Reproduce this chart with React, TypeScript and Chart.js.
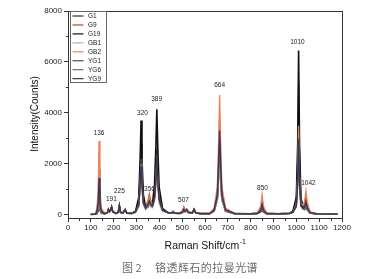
import React, { useEffect, useRef } from 'react';
import { Chart, registerables } from 'chart.js';
Chart.register(...registerables);

const W = 373;
const H = 279;

// Raman shift grid (cm-1)
const ramanShift = [
  100, 120, 126, 132, 136, 140, 146, 160, 172, 177, 182, 187, 191, 196,
  210, 220, 225, 230, 240, 250, 258, 280, 296, 310, 316, 320, 324, 330,
  340, 350, 356, 362, 370, 379, 385, 389, 393, 399, 414, 440, 455, 460,
  466, 490, 502, 507, 513, 520, 527, 545, 552, 560, 580, 620, 640, 654,
  660, 664, 668, 674, 690, 730, 800, 830, 844, 850, 856, 870, 920, 970,
  985, 1000, 1006, 1010, 1014, 1020, 1030, 1036, 1042, 1048, 1060, 1090, 1150, 1180,
];

const seriesNames = ['G1', 'G9', 'G19', 'GB1', 'GB2', 'YG1', 'YG6', 'YG9'];
const seriesColors = ['#2e2e2e', '#b5482e', '#111111', '#b0b0b0', '#e8825f', '#4a4a4a', '#707070', '#3d3456'];

const g1 = [
  20, 30, 80, 270, 900, 320, 90, 50, 80, 220, 130, 190, 320, 130,
  60, 110, 370, 110, 70, 210, 70, 60, 150, 560, 1700, 2800, 1700, 650,
  300, 380, 520, 400, 380, 800, 1700, 2600, 1700, 700, 200, 80, 80, 130,
  70, 60, 110, 200, 140, 210, 100, 80, 220, 80, 50, 50, 170, 680,
  1800, 2800, 1800, 680, 170, 50, 40, 60, 160, 350, 160, 50, 40, 60,
  140, 580, 2250, 5200, 2250, 600, 300, 280, 450, 250, 90, 40, 30, 30,
];
const g9 = [
  30, 40, 150, 550, 1800, 620, 170, 60, 90, 240, 140, 200, 340, 140,
  70, 120, 390, 120, 80, 220, 80, 70, 120, 380, 1100, 1800, 1100, 450,
  300, 550, 820, 600, 420, 750, 1600, 2400, 1600, 650, 200, 90, 90, 140,
  80, 80, 170, 320, 200, 230, 110, 90, 230, 90, 60, 60, 220, 900,
  2450, 3800, 2450, 900, 220, 60, 50, 80, 260, 600, 260, 70, 50, 70,
  130, 480, 1800, 4050, 1800, 520, 340, 400, 700, 380, 110, 50, 40, 40,
];
const g19 = [
  20, 30, 50, 150, 500, 200, 70, 50, 80, 200, 120, 180, 300, 120,
  60, 100, 350, 100, 70, 200, 70, 60, 150, 700, 2200, 3700, 2200, 800,
  300, 300, 420, 350, 450, 1200, 2700, 4150, 2700, 1100, 250, 80, 80, 130,
  70, 60, 100, 180, 130, 200, 100, 80, 220, 80, 50, 50, 150, 600,
  1600, 2500, 1600, 600, 150, 50, 40, 60, 120, 250, 120, 50, 40, 60,
  150, 700, 2800, 6450, 2800, 700, 280, 220, 300, 200, 80, 40, 30, 30,
];
const gb1 = [
  20, 30, 70, 210, 700, 250, 70, 40, 70, 180, 110, 160, 270, 110,
  50, 90, 300, 90, 60, 170, 60, 50, 100, 320, 950, 1500, 950, 380,
  200, 300, 410, 330, 280, 500, 1050, 1600, 1050, 450, 150, 70, 70, 110,
  60, 50, 90, 160, 110, 180, 90, 70, 190, 70, 40, 40, 140, 530,
  1400, 2200, 1400, 530, 140, 40, 30, 50, 140, 300, 140, 40, 30, 50,
  90, 300, 1050, 2400, 1050, 320, 210, 240, 400, 220, 70, 30, 25, 25,
];
const gb2 = [
  30, 50, 240, 880, 2900, 1000, 270, 70, 90, 230, 140, 200, 330, 140,
  70, 110, 380, 110, 80, 210, 80, 70, 120, 360, 1050, 1700, 1050, 430,
  280, 480, 720, 540, 380, 630, 1320, 2000, 1320, 560, 180, 90, 90, 130,
  80, 80, 160, 300, 190, 220, 110, 90, 220, 90, 60, 60, 270, 1120,
  3000, 4700, 3000, 1120, 270, 60, 50, 90, 350, 800, 350, 80, 50, 70,
  120, 420, 1550, 3500, 1550, 480, 380, 530, 950, 500, 130, 50, 40, 40,
];
const yg1 = [
  20, 30, 90, 300, 1000, 350, 100, 50, 80, 210, 130, 190, 310, 130,
  60, 100, 360, 100, 70, 200, 70, 60, 130, 450, 1380, 2200, 1380, 540,
  280, 380, 510, 400, 350, 700, 1500, 2300, 1500, 640, 190, 80, 80, 120,
  70, 60, 110, 190, 130, 200, 100, 80, 210, 80, 50, 50, 180, 720,
  1920, 3000, 1920, 720, 180, 50, 40, 60, 160, 350, 160, 50, 40, 60,
  110, 360, 1320, 3000, 1320, 390, 250, 270, 450, 250, 80, 40, 30, 30,
];
const yg6 = [
  20, 30, 75, 240, 800, 280, 80, 45, 75, 200, 120, 180, 300, 120,
  55, 95, 340, 95, 65, 190, 65, 55, 120, 410, 1250, 2000, 1250, 490,
  250, 340, 460, 360, 320, 640, 1370, 2100, 1370, 590, 170, 75, 75, 115,
  65, 55, 100, 175, 120, 190, 95, 75, 200, 75, 45, 45, 160, 650,
  1730, 2700, 1730, 650, 160, 45, 35, 55, 140, 300, 140, 45, 35, 55,
  100, 330, 1190, 2700, 1190, 350, 230, 240, 400, 220, 75, 35, 28, 28,
];
const yg9 = [
  25, 35, 120, 440, 1450, 500, 140, 55, 85, 220, 135, 195, 320, 135,
  65, 105, 370, 105, 75, 205, 75, 65, 120, 400, 1200, 1900, 1200, 480,
  270, 410, 560, 440, 360, 680, 1430, 2200, 1430, 610, 180, 80, 80, 125,
  75, 65, 120, 220, 150, 210, 100, 80, 215, 80, 50, 50, 200, 800,
  2110, 3300, 2110, 800, 200, 50, 40, 65, 180, 400, 180, 55, 40, 60,
  110, 350, 1280, 2900, 1280, 380, 260, 300, 500, 280, 85, 40, 30, 30,
];
const seriesValues = [g1, g9, g19, gb1, gb2, yg1, yg6, yg9];

// peak annotations
const peakLabels = ['136', '191', '225', '320', '356', '389', '507', '664', '850', '1010', '1042'];
const peakLabelX = [136, 190, 225, 326, 357, 388, 506, 664, 852, 1005, 1053];
const peakLabelY = [3215, 630, 940, 4000, 1020, 4550, 590, 5100, 1060, 6780, 1250];

const xTicks = [0, 100, 200, 300, 400, 500, 600, 700, 800, 900, 1000, 1100, 1200];
const xMinorTicks = [50, 150, 250, 350, 450, 550, 650, 750, 850, 950, 1050, 1150];
const yTicks = [0, 2000, 4000, 6000, 8000];
const yMinorTicks = [1000, 3000, 5000, 7000];

const FONT = '"Liberation Sans", Arial, sans-serif';

const decor = {
  id: 'decor',
  afterDatasetsDraw(chart: any) {
    const { ctx, chartArea: a, scales } = chart;
    const x = scales.x;
    const y = scales.y;
    ctx.save();
    // frame
    ctx.strokeStyle = '#333';
    ctx.lineWidth = 1;
    const L = Math.round(a.left) + 0.5;
    const T = Math.round(a.top) + 0.5;
    const R = Math.round(a.right) + 0.5;
    const B = Math.round(a.bottom) + 0.5;
    ctx.strokeRect(L, T, R - L, B - T);
    // minor ticks
    ctx.beginPath();
    xMinorTicks.forEach((v) => {
      const px = Math.round(x.getPixelForValue(v)) + 0.5;
      ctx.moveTo(px, B);
      ctx.lineTo(px, B + 2.5);
    });
    yMinorTicks.forEach((v) => {
      const py = Math.round(y.getPixelForValue(v)) + 0.5;
      ctx.moveTo(L, py);
      ctx.lineTo(L - 2.5, py);
    });
    ctx.stroke();

    // peak labels
    ctx.fillStyle = '#222';
    ctx.font = `6.5px ${FONT}`;
    ctx.textAlign = 'center';
    ctx.textBaseline = 'middle';
    peakLabels.forEach((t, i) => {
      ctx.fillText(t, x.getPixelForValue(peakLabelX[i]), y.getPixelForValue(peakLabelY[i]));
    });

    // legend
    const lx = L + 2;
    const ly = T;
    ctx.strokeStyle = '#666';
    ctx.lineWidth = 1;
    ctx.strokeRect(lx, ly, 36, 71);
    ctx.font = `6.5px ${FONT}`;
    ctx.textAlign = 'left';
    seriesNames.forEach((n, i) => {
      const cy = ly + 4.5 + i * 8.95;
      ctx.strokeStyle = seriesColors[i];
      ctx.lineWidth = 1.2;
      ctx.beginPath();
      ctx.moveTo(lx + 2, cy);
      ctx.lineTo(lx + 13, cy);
      ctx.stroke();
      ctx.fillStyle = '#222';
      ctx.fillText(n, lx + 17.5, cy + 0.5);
    });

    // axis titles
    ctx.fillStyle = '#111';
    ctx.textBaseline = 'middle';
    ctx.font = `10.5px ${FONT}`;
    const main = 'Raman Shift/cm';
    const mw = ctx.measureText(main).width;
    ctx.font = `7px ${FONT}`;
    const sw = ctx.measureText('-1').width;
    const startX = 205 - (mw + sw) / 2;
    ctx.font = `10.5px ${FONT}`;
    ctx.textAlign = 'left';
    ctx.fillText(main, startX, 246);
    ctx.font = `7px ${FONT}`;
    ctx.fillText('-1', startX + mw + 0.5, 242);

    ctx.translate(35, 114);
    ctx.rotate(-Math.PI / 2);
    ctx.font = `10px ${FONT}`;
    ctx.textAlign = 'center';
    ctx.fillText('Intensity(Counts)', 0, 0);
    ctx.restore();
  },
};

export default function App() {
  const ref = useRef<HTMLCanvasElement | null>(null);
  useEffect(() => {
    if (!ref.current) return;
    const datasets = seriesNames.map((name, i) => ({
      label: name,
      data: ramanShift.map((xv, j) => ({ x: xv, y: seriesValues[i][j] })),
      borderColor: seriesColors[i],
      backgroundColor: seriesColors[i],
      borderWidth: name === 'G19' ? 1.6 : 1.3,
      pointRadius: 0,
      tension: 0,
      fill: false,
      order: seriesNames.length - i,
    }));
    const chart = new Chart(ref.current, {
      type: 'line',
      data: { datasets },
      options: {
        responsive: false,
        animation: false,
        devicePixelRatio: 1,
        layout: { padding: { left: 0, right: 31, top: 11, bottom: 0 } },
        plugins: {
          legend: { display: false },
          tooltip: { enabled: false },
          title: { display: false },
        },
        scales: {
          x: {
            type: 'linear',
            min: 0,
            max: 1200,
            afterBuildTicks: (s: any) => {
              s.ticks = xTicks.map((v) => ({ value: v }));
            },
            afterFit: (s: any) => {
              s.height = 61;
            },
            grid: { drawOnChartArea: false, drawTicks: true, tickLength: 4, color: '#333' },
            border: { display: false },
            ticks: {
              font: { size: 8, family: FONT },
              color: '#222',
              padding: 1,
              maxRotation: 0,
              autoSkip: false,
              callback: (v: any) => String(v),
            },
          },
          y: {
            type: 'linear',
            min: -120,
            max: 8000,
            afterBuildTicks: (s: any) => {
              s.ticks = yTicks.map((v) => ({ value: v }));
            },
            afterFit: (s: any) => {
              s.width = 68;
            },
            grid: { drawOnChartArea: false, drawTicks: true, tickLength: 4, color: '#333' },
            border: { display: false },
            ticks: {
              font: { size: 8, family: FONT },
              color: '#222',
              padding: 2,
              autoSkip: false,
              callback: (v: any) => String(v),
            },
          },
        },
      },
      plugins: [decor],
    } as any);
    return () => chart.destroy();
  }, []);

  return (
    <div style={{ position: 'fixed', left: 0, top: 0, width: W, height: H, background: '#fff', overflow: 'hidden' }}>
      <canvas ref={ref} width={W} height={H} style={{ display: 'block', width: W, height: H }} />
      <div
        style={{
          position: 'absolute',
          top: 261,
          left: 122,
          fontFamily: '"Noto Sans CJK SC", sans-serif',
          fontSize: 11,
          lineHeight: '12px',
          color: '#6a6a6a',
          whiteSpace: 'nowrap',
        }}
      >
        图 2
      </div>
      <div
        style={{
          position: 'absolute',
          top: 261,
          left: 155,
          fontFamily: '"Noto Sans CJK SC", sans-serif',
          fontSize: 11,
          lineHeight: '12px',
          letterSpacing: '0.45px',
          color: '#6a6a6a',
          whiteSpace: 'nowrap',
        }}
      >
        铬透辉石的拉曼光谱
      </div>
    </div>
  );
}
